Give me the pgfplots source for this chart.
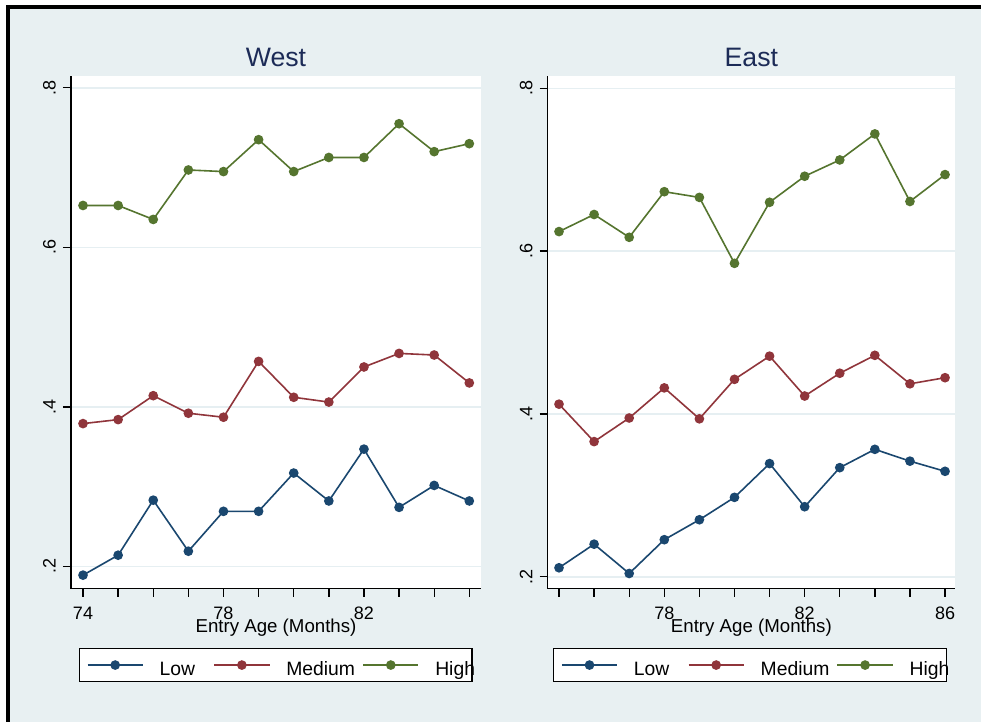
\documentclass[border=0pt]{standalone}
\usepackage{pgfplots}
\pgfplotsset{compat=1.18}
\usepackage{fontspec}
\setmainfont{Liberation Sans}
\definecolor{bg}{RGB}{232,240,242}
\definecolor{gridc}{RGB}{230,239,242}
\definecolor{snavy}{RGB}{26,71,111}
\definecolor{smaroon}{RGB}{144,53,59}
\definecolor{sgreen}{RGB}{85,117,47}
\definecolor{tnavy}{RGB}{28,43,87}
\pgfplotsset{
  panel/.style={
    scale only axis, height=384.5pt,
    axis x line*=bottom, axis y line*=left,
    axis line style={line width=1pt, black},
    tick align=outside, major tick length=6pt,
    every tick/.style={line width=1pt, black},
    ytick={0.2,0.4,0.6,0.8}, yticklabels={.2,.4,.6,.8},
    yticklabel style={rotate=90, anchor=south, inner xsep=0pt, inner ysep=5.25pt},
    xticklabel style={inner xsep=0pt, inner ysep=7.5pt},
    ymajorgrids, major grid style={gridc, line width=1.2pt},
    axis background/.style={fill=white},
    tick label style={font=\fontsize{13.5}{15}\selectfont},
    /pgf/number format/assume math mode=true,
    title style={font=\fontsize{20}{24}\selectfont, color=tnavy, at={(0.5,1)}, anchor=base, yshift=1pt},
    x label style={font=\fontsize{14}{16}\selectfont, at={(axis description cs:0.5,0)}, anchor=base, yshift=-33.2pt},
    xlabel={Entry Age (Months)},
    legend columns=3,
    legend cell align=left,
    legend image code/.code={\draw[mark repeat=2,mark phase=2] plot coordinates {(0pt,0pt) (20.75pt,0pt) (41.5pt,0pt)};},
    legend style={at={(0,0)}, anchor=north west, yshift=-44.5pt,
      draw=black, line width=1pt, fill=white, inner xsep=5.5pt, inner ysep=2pt,
      font=\fontsize{14.5}{16}\selectfont,
      nodes={inner sep=0pt, text height=18.25pt, text depth=2.3pt},
      /tikz/every odd column/.append style={column sep=12pt},
      /tikz/every even column/.append style={column sep=0pt}},
    every axis plot/.append style={line width=1.2pt, mark=*, mark size=3pt},
  }
}
\begin{document}
\begin{tikzpicture}
\fill[white] (0,0) rectangle (735.75pt,541.5pt);
\fill[bg] (7.5pt,0) rectangle (735.75pt,535pt);
\fill[black] (4.5pt,0) rectangle (7.5pt,537.5pt);
\fill[black] (4.5pt,535pt) rectangle (735.75pt,537.5pt);

\begin{axis}[panel, at={(53.25pt,99.98pt)}, anchor=south west,
  width=307.5pt, xmin=73.658, xmax=85.333, ymin=0.172, ymax=0.8148,
  xtick={74,...,85}, xticklabels={74,,,,78,,,,82,,,},
  title={West}, legend style={xshift=5.8pt}]
\addplot[snavy, mark options={fill=snavy}] coordinates {
(74,0.189) (75,0.214) (76,0.283) (77,0.219) (78,0.269) (79,0.269)
(80,0.317) (81,0.282) (82,0.347) (83,0.274) (84,0.3015) (85,0.282)};
\addlegendentry{\makebox[40.3pt][l]{Low}}
\addplot[smaroon, mark options={fill=smaroon}] coordinates {
(74,0.379) (75,0.384) (76,0.414) (77,0.392) (78,0.387) (79,0.457)
(80,0.412) (81,0.406) (82,0.450) (83,0.467) (84,0.465) (85,0.430)};
\addlegendentry{\makebox[57pt][l]{Medium}}
\addplot[sgreen, mark options={fill=sgreen}] coordinates {
(74,0.6525) (75,0.6525) (76,0.635) (77,0.697) (78,0.695) (79,0.735)
(80,0.695) (81,0.7127) (82,0.7127) (83,0.755) (84,0.720) (85,0.730)};
\addlegendentry{\makebox[22pt][l]{High}}
\end{axis}

\begin{axis}[panel, at={(410.78pt,99.98pt)}, anchor=south west,
  width=305.5pt, xmin=74.678, xmax=86.285, ymin=0.1853, ymax=0.8151,
  xtick={75,...,86}, xticklabels={,,,78,,,,82,,,,86},
  title={East}, legend style={xshift=4pt}]
\addplot[snavy, mark options={fill=snavy}] coordinates {
(75,0.211) (76,0.240) (77,0.204) (78,0.2455) (79,0.270) (80,0.2975)
(81,0.339) (82,0.286) (83,0.334) (84,0.3565) (85,0.342) (86,0.3295)};
\addlegendentry{\makebox[40.3pt][l]{Low}}
\addplot[smaroon, mark options={fill=smaroon}] coordinates {
(75,0.412) (76,0.366) (77,0.395) (78,0.432) (79,0.394) (80,0.4425)
(81,0.471) (82,0.422) (83,0.450) (84,0.472) (85,0.437) (86,0.4445)};
\addlegendentry{\makebox[57pt][l]{Medium}}
\addplot[sgreen, mark options={fill=sgreen}] coordinates {
(75,0.624) (76,0.645) (77,0.617) (78,0.673) (79,0.666) (80,0.585)
(81,0.660) (82,0.692) (83,0.712) (84,0.744) (85,0.661) (86,0.694)};
\addlegendentry{\makebox[22pt][l]{High}}
\end{axis}
\pgfresetboundingbox
\useasboundingbox (0,0) rectangle (735.75pt,541.5pt);
\end{tikzpicture}
\end{document}
